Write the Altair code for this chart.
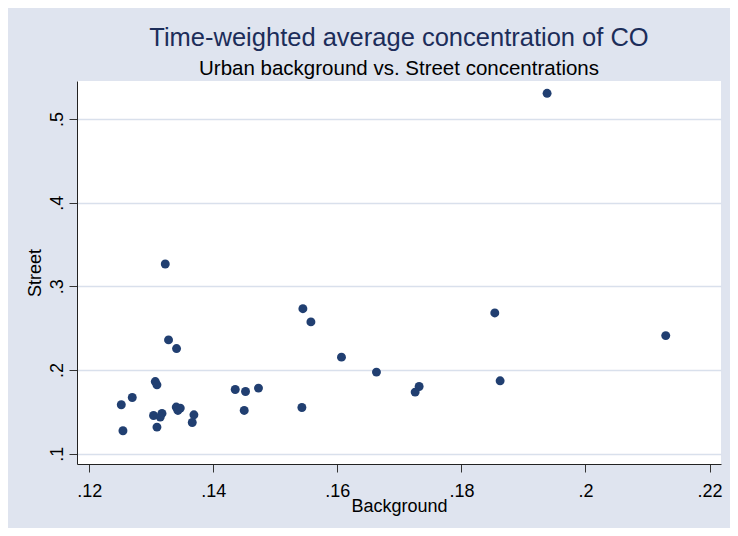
import altair as alt
import pandas as pd

background = [0.19381, 0.13225, 0.15444, 0.15573, 0.18538, 0.21294, 0.13278, 0.13407,
              0.16066, 0.16630, 0.13064, 0.13091, 0.12693, 0.12516, 0.12543, 0.13036,
              0.13172, 0.13144, 0.13091, 0.13402, 0.13467, 0.13429, 0.13687, 0.13660,
              0.14353, 0.14519, 0.14728, 0.14498, 0.15428, 0.17318, 0.17254, 0.18624]
street = [0.5306, 0.3267, 0.2733, 0.2575, 0.2682, 0.2411, 0.2360, 0.2256,
          0.2154, 0.1975, 0.1862, 0.1823, 0.1672, 0.1585, 0.1274, 0.1457,
          0.1481, 0.1438, 0.1318, 0.1557, 0.1545, 0.1517, 0.1465, 0.1373,
          0.1767, 0.1743, 0.1784, 0.1517, 0.1552, 0.1803, 0.1736, 0.1871]
x_ticks = [0.12, 0.14, 0.16, 0.18, 0.2, 0.22]
y_ticks = [0.1, 0.2, 0.3, 0.4, 0.5]

df = pd.DataFrame({"Background": background, "Street": street})

FONT = "Liberation Sans"
label_expr = "replace(toString(datum.value), /^0/, '')"

chart = alt.Chart(df).mark_circle(size=80, color="#213F71", opacity=1).encode(
    x=alt.X("Background:Q",
            scale=alt.Scale(domain=[0.11802, 0.22185], nice=False, zero=False),
            axis=alt.Axis(values=x_ticks, labelExpr=label_expr, grid=False,
                          domainColor="#222222", domainWidth=1,
                          tickColor="#333333", tickSize=8, tickWidth=1,
                          labelFont=FONT, labelFontSize=18, labelColor="black",
                          labelPadding=10, labelBaseline="top", labelFlush=False,
                          labelOverlap=False,
                          title="Background", titleFont=FONT, titleFontSize=18,
                          titleFontWeight="normal", titleColor="black",
                          titleX=322, titleY=42, titleBaseline="middle",
                          titleAlign="center")),
    y=alt.Y("Street:Q",
            scale=alt.Scale(domain=[0.08771, 0.54533], nice=False, zero=False),
            axis=alt.Axis(values=y_ticks, labelExpr=label_expr, grid=True,
                          gridColor="#D9E0EC", gridWidth=1.5,
                          domainColor="#222222", domainWidth=1,
                          tickColor="#333333", tickSize=8, tickWidth=1,
                          labelFont=FONT, labelFontSize=18, labelColor="black",
                          labelAngle=270, labelAlign="center",
                          labelBaseline="alphabetic", labelPadding=7,
                          labelOverlap=False, labelFlush=False,
                          title="Street", titleFont=FONT, titleFontSize=18,
                          titleFontWeight="normal", titleColor="black",
                          titleAngle=270, titleX=-42, titleY=191.5,
                          titleAlign="center", titleBaseline="middle")),
).properties(
    width=644,
    height=383,
    title=alt.TitleParams(
        text="Time-weighted average concentration of CO",
        subtitle="Urban background vs. Street concentrations",
        anchor="middle", font=FONT, fontSize=25.5, fontWeight="normal",
        color="#1C2D5A", subtitleFont=FONT, subtitleFontSize=20.5,
        subtitleColor="black", subtitlePadding=7, offset=2,
    ),
    background="#DFE4EF",
    padding={"left": 69, "top": 73, "right": 9, "bottom": 64},
    autosize=alt.AutoSizeParams(type="none"),
).configure_view(fill="white", strokeWidth=0)

chart.save("out.html", embed_options={"renderer": "svg", "actions": False})
